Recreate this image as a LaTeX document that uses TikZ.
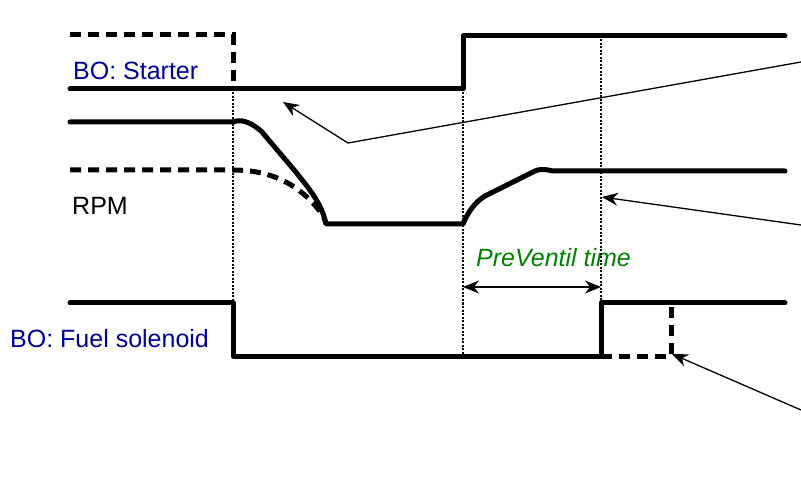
\documentclass[tikz,border=0pt]{standalone}
\usepackage{fontspec}
\setmainfont{Liberation Sans}
\usetikzlibrary{arrows.meta}
\definecolor{lblblue}{RGB}{0,0,150}
\definecolor{lblgreen}{RGB}{0,128,0}
\tikzset{
  sig/.style={line width=5pt, line cap=round, line join=round},
  sigdash/.style={line width=5pt, dash pattern=on 11pt off 7pt},
  guide/.style={line width=2pt, dash pattern=on 2pt off 1.5pt},
  pointer/.style={line width=1.3pt, -{Stealth[length=16pt,width=13pt]}},
  lbl/.style={anchor=base west, inner sep=0pt, font=\fontsize{25}{30}\selectfont},
}
\begin{document}
\begin{tikzpicture}[x=1pt,y=-1pt]
\useasboundingbox (0,0) rectangle (801,481);
% labels
\node[lbl, text=lblblue] (lstarter) at (73,80) {BO: Starter};
\node[lbl] (lrpm) at (72,215) {RPM};
\node[lbl, text=lblblue] (lfuel) at (10,347) {BO: Fuel solenoid};
\node[lbl, text=lblgreen, font=\fontsize{25}{30}\selectfont\itshape] (lpre) at (476,267) {PreVentil time};
% guides
\draw[guide] (233,89) -- (233,302);
\draw[guide] (463,89) -- (463,356);
\draw[guide] (601,36) -- (601,302);
% starter
\draw[sigdash] (70,35) -- (233,35) -- (233,89);
\draw[sig] (70,89) -- (463,89) -- (463,36) -- (785,36);
% rpm
\draw[sigdash] (70,170) -- (233,170) .. controls (265,170) and (290,180) .. (310,200) .. controls (320,210) and (325,218) .. (326,224);
\draw[sig] (70,122) -- (233,122) .. controls (240,119) and (250,121) .. (262,132) -- (295,171) .. controls (312,192) and (322,205) .. (326,224) -- (463,224)
  .. controls (468,212) and (475,202) .. (485,196) -- (535,171) .. controls (542,168) and (548,170) .. (553,171) -- (785,171);
% fuel
\draw[sig] (70,303) -- (233,303) -- (233,356) -- (601,356) -- (601,303) -- (785,303);
\draw[sigdash] (601,356) -- (671,356) -- (671,303);
% pointers
\coordinate (p1s) at (801,62);
\coordinate (p1k) at (348,143);
\coordinate (p1t) at (283,102);
\coordinate (p2s) at (801,225);
\coordinate (p2t) at (602,197);
\coordinate (p3s) at (801,410);
\coordinate (p3t) at (672,354);
\coordinate (pvl) at (463,287);
\coordinate (pvr) at (601,287);
\draw[pointer] (p1s) -- (p1k) -- (p1t);
\draw[pointer] (p2s) -- (p2t);
\draw[pointer] (p3s) -- (p3t);
\draw[line width=1.3pt, {Stealth[length=16pt,width=13pt]}-{Stealth[length=16pt,width=13pt]}] (pvl) -- (pvr);
\end{tikzpicture}
\end{document}
